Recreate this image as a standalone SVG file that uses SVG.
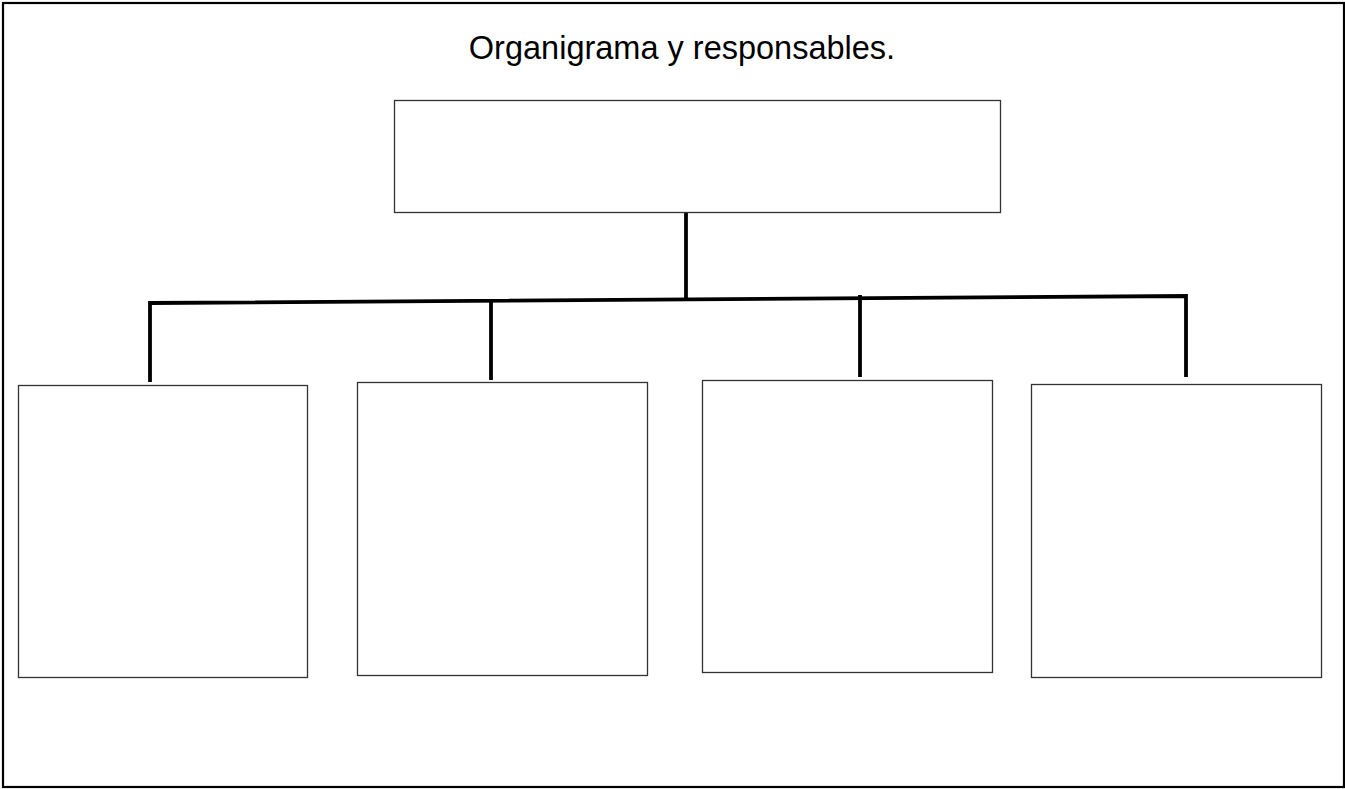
<svg xmlns="http://www.w3.org/2000/svg" width="1345" height="789" viewBox="0 0 1345 789">
<style>
.frame{fill:none;stroke:#000;stroke-width:2.2}
.box{fill:#fff;stroke:#333;stroke-width:1.3}
.conn{fill:none;stroke:#000;stroke-width:3.8;stroke-linecap:butt;stroke-linejoin:miter}
.title{font-family:"Liberation Sans",Arial,sans-serif;font-size:32.5px;fill:#000}
</style>
<rect width="1345" height="789" fill="#fff"/>
<rect class="frame" x="3" y="3" width="1341" height="784"/>
<g id="title"><text class="title" x="682" y="59" text-anchor="middle">Organigrama y responsables.</text></g>
<g id="node-top"><rect class="box" x="394.5" y="100.5" width="606" height="112"/></g>
<g id="node-1"><rect class="box" x="18.5" y="385.5" width="289" height="292"/></g>
<g id="node-2"><rect class="box" x="357.5" y="382.5" width="290" height="293"/></g>
<g id="node-3"><rect class="box" x="702.5" y="380.5" width="290" height="292"/></g>
<g id="node-4"><rect class="box" x="1031.5" y="384.5" width="290" height="293"/></g>
<g id="connectors">
<line class="conn" x1="686" y1="213" x2="686" y2="299"/>
<polyline class="conn" points="150,382 150,303 1186,296 1186,377"/>
<line class="conn" x1="491" y1="300" x2="491" y2="380"/>
<line class="conn" x1="860" y1="295" x2="860" y2="377"/>
</g>
</svg>
